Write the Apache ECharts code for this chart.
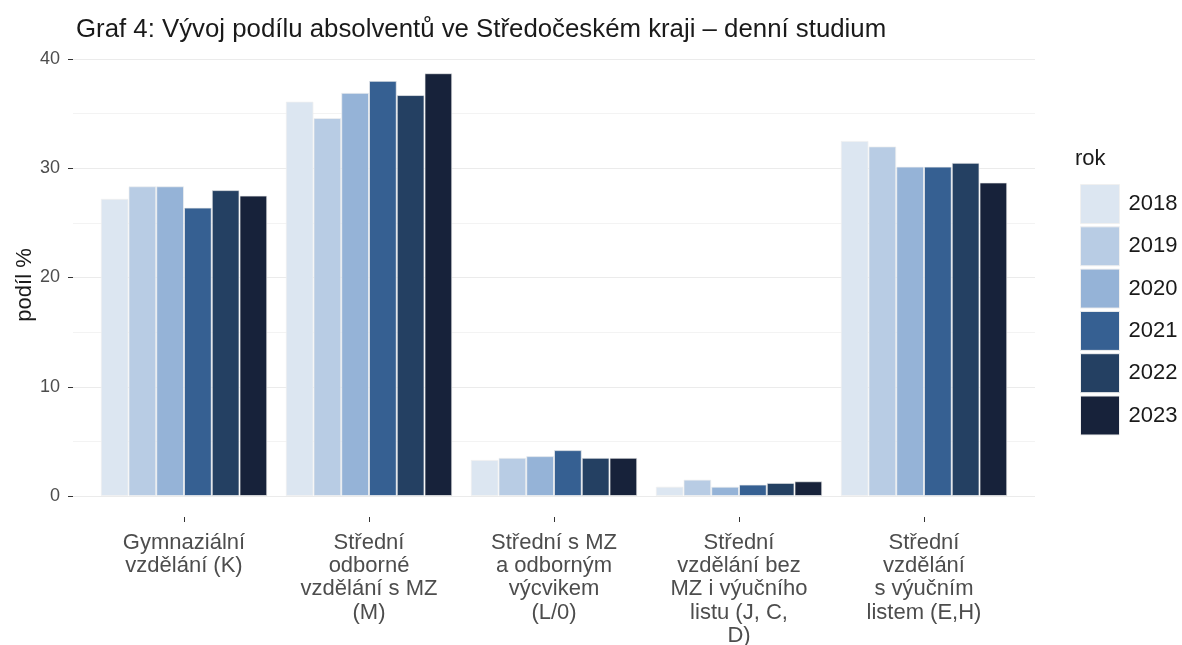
<!DOCTYPE html>
<html>
<head>
<meta charset="utf-8">
<style>
  html, body { margin: 0; padding: 0; background: #fff; }
  #chart { width: 1182px; height: 645px; }
</style>
<script src="https://cdn.jsdelivr.net/npm/echarts@6/dist/echarts.min.js"></script>
</head>
<body>
<div id="chart"></div>
<script>
// kategorie vzdělání (osa x)
const categories = [
  'Gymnaziální\nvzdělání (K)',
  'Střední\nodborné\nvzdělání s MZ\n(M)',
  'Střední s MZ\na odborným\nvýcvikem\n(L/0)',
  'Střední\nvzdělání bez\nMZ i výučního\nlistu (J, C,\nD)',
  'Střední\nvzdělání\ns výučním\nlistem (E,H)'
]
const years = ['2018', '2019', '2020', '2021', '2022', '2023']
// podíl % podle roku
const v2018 = [27.2, 36.1, 3.3, 0.85, 32.5]
const v2019 = [28.35, 34.6, 3.5, 1.5, 32.0]
const v2020 = [28.35, 36.9, 3.65, 0.85, 30.15]
const v2021 = [26.4, 38.0, 4.2, 1.05, 30.15]
const v2022 = [28.0, 36.7, 3.5, 1.2, 30.5]
const v2023 = [27.5, 38.7, 3.5, 1.35, 28.7]
const yTicks = [0, 10, 20, 30, 40]

const values = [v2018, v2019, v2020, v2021, v2022, v2023]
const colors = ['#dce6f1', '#b8cce4', '#95b3d7', '#366092', '#244062', '#17223a']
const font = 'Liberation Sans, Arial, sans-serif'

const myChart = echarts.init(document.getElementById('chart'))

// grid 0 = mřížka panelu, grid 1 = sloupce, grid 2 = popisky osy x (posunuté dolů)
const option = {
  backgroundColor: '#fff',
  color: colors,
  animation: false,
  title: {
    text: 'Graf 4: Vývoj podílu absolventů ve Středočeském kraji – denní studium',
    left: 71,
    top: 12,
    textStyle: { fontFamily: font, fontSize: 25.8, fontWeight: 'normal', color: '#1a1a1a' }
  },
  legend: {
    orient: 'vertical',
    left: 1075,
    top: 179,
    itemWidth: 39,
    itemHeight: 39,
    itemGap: 2.3,
    icon: 'rect',
    data: years,
    itemStyle: { borderColor: '#f0f0f0', borderWidth: 1 },
    textStyle: { fontFamily: font, fontSize: 22, color: '#1a1a1a', padding: [0, 0, 0, 4] }
  },
  graphic: [
    {
      type: 'text', left: 1075, top: 148,
      style: { text: 'rok', font: '22px ' + font, fill: '#1a1a1a' }
    },
    {
      type: 'text', x: 25, y: 285, rotation: Math.PI / 2,
      style: { text: 'podíl %', font: '22px ' + font, fill: '#1a1a1a', align: 'center', verticalAlign: 'middle' }
    }
  ],
  grid: [
    { left: 73, right: 147, top: 59, bottom: 149, outerBoundsMode: 'none' },
    { left: 91.5, right: 165.5, top: 59, bottom: 149, outerBoundsMode: 'none' },
    { left: 91.5, right: 165.5, top: 507, bottom: 128, outerBoundsMode: 'none' }
  ],
  xAxis: [
    { type: 'category', gridIndex: 0, data: categories, show: false },
    { type: 'category', gridIndex: 1, data: categories, show: false },
    {
      type: 'category',
      gridIndex: 2,
      data: categories,
      axisLine: { show: false },
      axisTick: { show: true, alignWithLabel: true, length: 5, lineStyle: { color: '#333' } },
      axisLabel: {
        margin: 14,
        interval: 0,
        fontFamily: font,
        fontSize: 22,
        lineHeight: 23.3,
        color: '#4d4d4d',
        align: 'center'
      }
    }
  ],
  yAxis: [
    {
      type: 'value',
      gridIndex: 0,
      min: yTicks[0],
      max: yTicks[yTicks.length - 1],
      interval: 10,
      axisLine: { show: false },
      axisTick: { show: true, length: 5, lineStyle: { color: '#333' } },
      axisLabel: { margin: 13, fontFamily: font, fontSize: 18, color: '#4d4d4d' },
      splitLine: { show: true, lineStyle: { color: '#ebebeb', width: 1.2 } },
      minorTick: { show: false, splitNumber: 2 },
      minorSplitLine: { show: true, lineStyle: { color: '#f3f3f3', width: 1 } }
    },
    {
      type: 'value',
      gridIndex: 1,
      min: yTicks[0],
      max: yTicks[yTicks.length - 1],
      show: false,
      splitLine: { show: false }
    },
    { type: 'value', gridIndex: 2, show: false, splitLine: { show: false } }
  ],
  series: years.map((y, i) => ({
    name: y,
    type: 'bar',
    xAxisIndex: 1,
    yAxisIndex: 1,
    data: values[i],
    barGap: '0%',
    barCategoryGap: '10%',
    itemStyle: { color: colors[i], borderColor: 'rgba(240,240,240,0.7)', borderWidth: 1 }
  }))
}

myChart.setOption(option)
window.addEventListener('resize', () => {
  myChart.resize()
})
</script>
</body>
</html>
